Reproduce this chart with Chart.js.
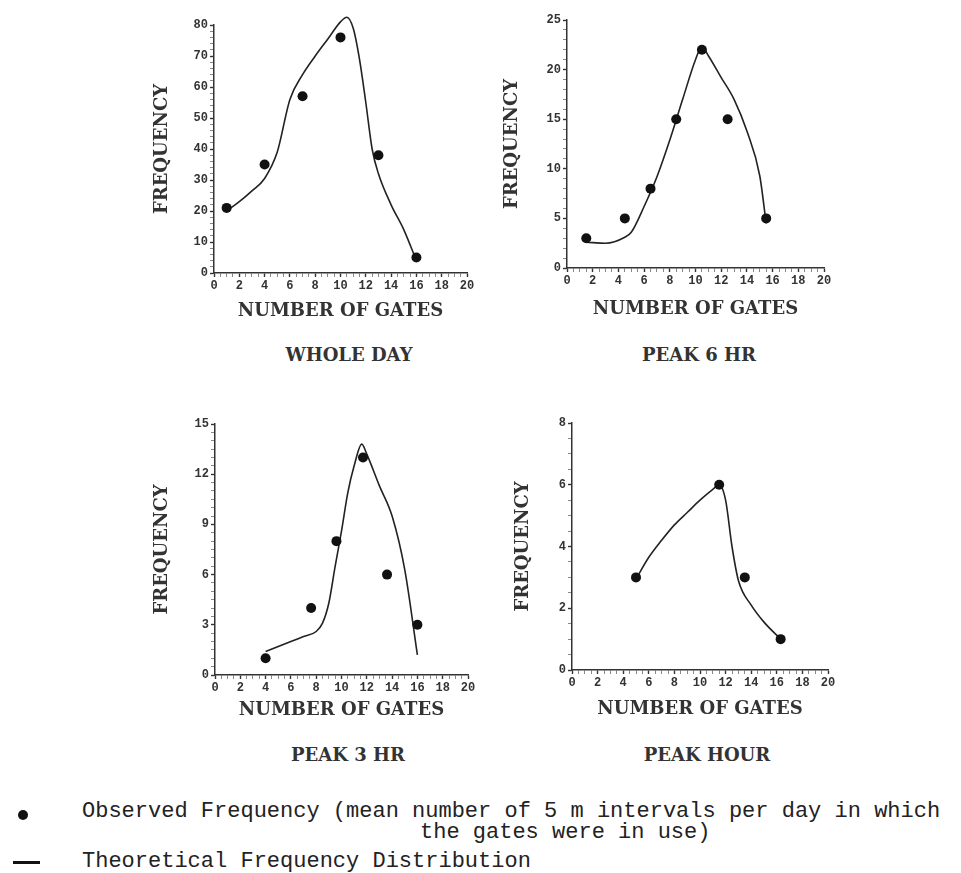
<!DOCTYPE html>
<html><head><meta charset="utf-8">
<script src="https://cdn.jsdelivr.net/npm/chart.js@4/dist/chart.umd.min.js"></script>
<style>
body{margin:0;background:#fff;width:961px;height:873px;position:relative;overflow:hidden;}
canvas{position:absolute;}
.t{position:absolute;font-family:"DejaVu Serif";font-weight:bold;font-size:18px;line-height:18px;color:#333;white-space:nowrap;text-align:center;width:200px}
.lg{position:absolute;font-family:"Liberation Mono";font-size:22px;line-height:22px;color:#222;white-space:pre}
</style></head><body>
<canvas id="c1" width="329" height="315" style="left:153px;top:5px"></canvas>
<canvas id="c2" width="336" height="313" style="left:503px;top:5px"></canvas>
<canvas id="c3" width="330" height="314" style="left:153px;top:405px"></canvas>
<canvas id="c4" width="329" height="313" style="left:514px;top:405px"></canvas>

<div class="t" style="left:249px;top:346px">WHOLE DAY</div>
<div class="t" style="left:599px;top:346px">PEAK 6 HR</div>
<div class="t" style="left:248px;top:746px">PEAK 3 HR</div>
<div class="t" style="left:607px;top:746px">PEAK HOUR</div>

<div style="position:absolute;left:18px;top:810px;width:10px;height:10px;border-radius:50%;background:#111"></div>
<div class="lg" style="left:82px;top:801px">Observed Frequency (mean number of 5 m intervals per day in which</div>
<div class="lg" style="left:420px;top:822px">the gates were in use)</div>
<div style="position:absolute;left:13px;top:861px;width:27px;height:3px;background:#111"></div>
<div class="lg" style="left:82px;top:851px">Theoretical Frequency Distribution</div>

<script>
// ---- Data ----
const xTicks = [0, 2, 4, 6, 8, 10, 12, 14, 16, 18, 20];

// WHOLE DAY
const wholeDayObsX = [1, 4, 7, 10, 13, 16];
const wholeDayObsY = [21, 35, 57, 76, 38, 5];
const wholeDayFitX = [1, 2, 3, 4, 5, 6, 7, 8, 9, 10, 10.5, 11, 11.5, 12, 12.5, 13, 14, 15, 16];
const wholeDayFitY = [20, 23, 26.5, 30.5, 39, 56, 64, 70, 75.5, 81, 82.5, 79, 69, 55, 40, 32, 22, 14, 4];

// PEAK 6 HR
const peak6ObsX = [1.5, 4.5, 6.5, 8.5, 10.5, 12.5, 15.5];
const peak6ObsY = [3, 5, 8, 15, 22, 15, 5];
const peak6FitX = [1.5, 3, 4.5, 5, 6, 7, 8, 9, 10, 10.5, 11, 12, 13, 14, 15, 15.5];
const peak6FitY = [2.6, 2.5, 3.1, 3.6, 6.2, 9.2, 12.9, 17, 21, 22.3, 21.4, 19.2, 17, 13.8, 9.3, 4.5];

// PEAK 3 HR
const peak3ObsX = [4, 7.6, 9.6, 11.7, 13.6, 16];
const peak3ObsY = [1, 4, 8, 13, 6, 3];
const peak3FitX = [4, 5, 6, 7, 8, 8.5, 9, 9.5, 10, 10.5, 11, 11.6, 12, 13, 14, 15, 16];
const peak3FitY = [1.4, 1.7, 2.0, 2.3, 2.6, 3.1, 4.3, 6.5, 8.6, 10.9, 12.5, 13.8, 13.2, 11.3, 9.5, 6.3, 1.2];

// PEAK HOUR
const peakHourObsX = [5, 11.5, 13.5, 16.3];
const peakHourObsY = [3, 6, 3, 1];
const peakHourFitX = [5, 6, 7, 8, 9, 10, 11, 11.5, 12, 12.5, 13, 14, 15, 16.3];
const peakHourFitY = [2.95, 3.65, 4.2, 4.7, 5.1, 5.5, 5.85, 6.0, 5.5, 4.0, 2.9, 2.1, 1.55, 1.0];

// y-axis label sets
const wholeDayYTicks = [0, 10, 20, 30, 40, 50, 60, 70, 80];
const peak6YTicks = [0, 5, 10, 15, 20, 25];
const peak3YTicks = [0, 3, 6, 9, 12, 15];
const peakHourYTicks = [0, 2, 4, 6, 8];

// ---- Drawing ----
const isIn = (arr, v) => arr.some(a => Math.abs(a - v) < 1e-9);
const tickFont = {family: 'Liberation Mono', size: 12, weight: 'bold'};
const titleFont = {family: 'DejaVu Serif', size: 18, weight: 'bold', lineHeight: 1};

function panel(id, ox, oy, fx, fy, yTicks, yStep, geo) {
  const pts = (xs, ys) => xs.map((x, i) => ({x: x, y: ys[i]}));
  new Chart(document.getElementById(id), {
    type: 'scatter',
    data: {
      datasets: [
        {label: 'Theoretical Frequency Distribution', data: pts(fx, fy), showLine: true,
         borderColor: '#222', borderWidth: 1.6, pointRadius: 0, cubicInterpolationMode: 'monotone',
         clip: false, order: 2},
        {label: 'Observed Frequency', data: pts(ox, oy), showLine: false,
         pointRadius: 5, pointBackgroundColor: '#111', pointBorderColor: '#111', borderWidth: 0,
         clip: false, order: 1}
      ]
    },
    options: {
      responsive: false, animation: false, devicePixelRatio: 1,
      layout: {padding: {left: 0, top: geo.top, right: 15, bottom: 0}},
      plugins: {legend: {display: false}, tooltip: {enabled: false}},
      scales: {
        x: {
          type: 'linear', min: 0, max: 20,
          afterFit: s => { s.height = geo.xh; },
          border: {display: true, color: '#333', width: 1.5},
          grid: {drawOnChartArea: false, drawTicks: true, tickLength: 4,
                 tickColor: c => isIn(xTicks, c.tick.value) ? '#333' : '#888',
                 tickWidth: c => isIn(xTicks, c.tick.value) ? 1.4 : 1},
          ticks: {stepSize: 0.5, autoSkip: false, maxRotation: 0, padding: 2, color: '#333', font: tickFont,
                  callback: v => isIn(xTicks, v) ? String(v) : ''},
          title: {display: true, text: 'NUMBER OF GATES', color: '#333', font: titleFont, padding: 0}
        },
        y: {
          type: 'linear', min: 0, max: yTicks[yTicks.length - 1],
          afterFit: s => { s.width = geo.yw; },
          border: {display: true, color: '#333', width: 1.5},
          grid: {drawOnChartArea: false, drawTicks: true, tickLength: 4,
                 tickColor: c => isIn(yTicks, c.tick.value) ? '#333' : '#888',
                 tickWidth: c => isIn(yTicks, c.tick.value) ? 1.4 : 1},
          ticks: {stepSize: yStep, autoSkip: false, padding: 2, color: '#333', font: tickFont,
                  callback: v => isIn(yTicks, v) ? String(v) : ''},
          title: {display: true, text: 'FREQUENCY', color: '#333', font: titleFont, padding: 0}
        }
      }
    }
  });
}

panel('c1', wholeDayObsX, wholeDayObsY, wholeDayFitX, wholeDayFitY, wholeDayYTicks, 2, {top: 20, xh: 47, yw: 61});
panel('c2', peak6ObsX, peak6ObsY, peak6FitX, peak6FitY, peak6YTicks, 1, {top: 15, xh: 50, yw: 64});
panel('c3', peak3ObsX, peak3ObsY, peak3FitX, peak3FitY, peak3YTicks, 0.5, {top: 19, xh: 44, yw: 62});
panel('c4', peakHourObsX, peakHourObsY, peakHourFitX, peakHourFitY, peakHourYTicks, 0.5, {top: 18, xh: 48, yw: 58});
</script>
</body></html>
